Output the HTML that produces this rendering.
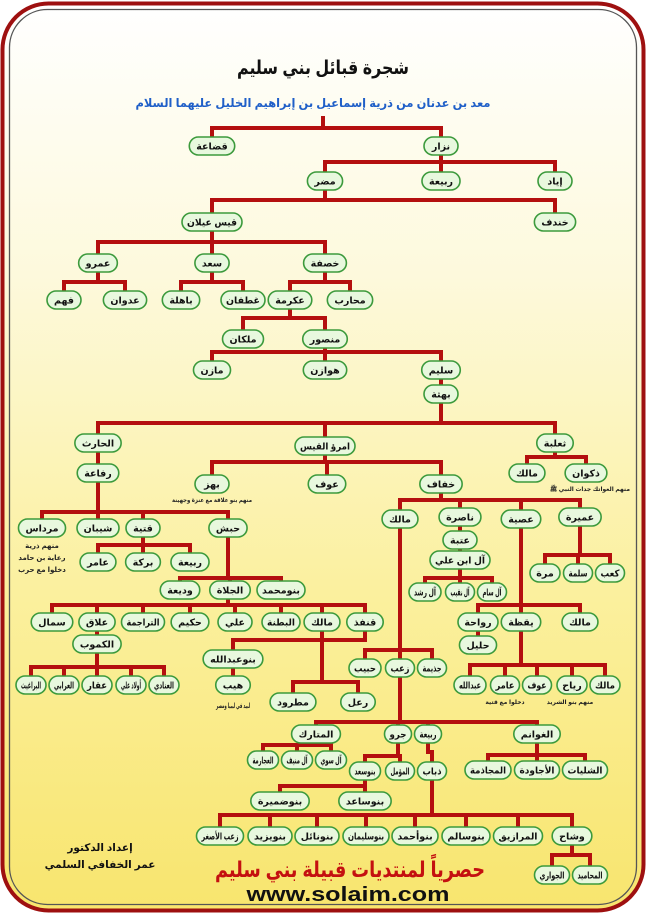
<!DOCTYPE html>
<html><head><meta charset="utf-8">
<style>
html,body{margin:0;padding:0;background:#fff;}
svg{display:block;}
text{font-family:"Liberation Sans","DejaVu Sans",sans-serif;font-weight:bold;}
</style></head>
<body>
<svg id="s" width="647" height="914" viewBox="0 0 647 914" xmlns="http://www.w3.org/2000/svg">
<defs>
<linearGradient id="bg" x1="0" y1="0" x2="0" y2="1">
<stop offset="0" stop-color="#ffffff"/>
<stop offset="0.3" stop-color="#fdf9dc"/>
<stop offset="0.65" stop-color="#fbf09e"/>
<stop offset="1" stop-color="#f8e56e"/>
</linearGradient>
</defs>
<rect x="2.5" y="3.5" width="641" height="907" rx="46" fill="url(#bg)" stroke="#9e1010" stroke-width="4"/>
<rect x="9.5" y="9.5" width="627" height="895" rx="38" fill="none" stroke="#555" stroke-width="1.3"/>
<text x="323" y="74" font-size="19" text-anchor="middle" fill="#111" textLength="172" lengthAdjust="spacingAndGlyphs">شجرة قبائل بني سليم</text>
<text x="313" y="107" font-size="12" text-anchor="middle" fill="#1f5fc8" textLength="355" lengthAdjust="spacingAndGlyphs">معد بن عدنان من ذرية إسماعيل بن إبراهيم الخليل عليهما السلام</text>
<g id="lines" stroke="#b40f0f" stroke-width="4" fill="none" stroke-linecap="square"></g>
<g id="nodes"></g>
<g font-size="6" fill="#222" text-anchor="middle">
<text x="590" y="491" textLength="80" lengthAdjust="spacingAndGlyphs">منهم العواتك جدات النبي ﷺ</text>
<text x="212" y="502" textLength="80" lengthAdjust="spacingAndGlyphs">منهم بنو علاقة مع عنزة وجهينة</text>
<text x="42" y="548" font-size="7">منهم ذرية</text>
<text x="42" y="560" font-size="7">رعاية بن حامد</text>
<text x="42" y="572" font-size="7">دخلوا مع حرب</text>
<text x="505" y="704">دخلوا مع قتية</text>
<text x="570" y="704">منهم بنو الشريد</text>
<text x="233" y="708" font-size="7" textLength="34" lengthAdjust="spacingAndGlyphs">لبيد في ليبيا ومصر</text>
</g>
<text x="100" y="851" font-size="10.5" text-anchor="middle" fill="#111">إعداد الدكتور</text>
<text x="100" y="868" font-size="10.5" text-anchor="middle" fill="#111">عمر الخفافي السلمي</text>
<text x="350" y="877" font-size="22" text-anchor="middle" fill="#c41010" textLength="270" lengthAdjust="spacingAndGlyphs">حصرياً لمنتديات قبيلة بني سليم</text>
<text x="348" y="901" font-size="20" text-anchor="middle" fill="#111" textLength="203" lengthAdjust="spacingAndGlyphs">www.solaim.com</text>
</svg>
<script>
var NS="http://www.w3.org/2000/svg";
var N=[
["قضاعة",212,146],["نزار",441,146],
["مضر",325,181],["ربيعة",441,181],["إياد",555,181],
["قيس عيلان",212,222],["خندف",555,222],
["عمرو",98,263],["سعد",212,263],["خصفة",325,263],
["فهم",64,300],["عدوان",125,300],["باهلة",181,300],["غطفان",243,300],["عكرمة",290,300],["محارب",350,300],
["ملكان",243,339],["منصور",325,339],
["مازن",212,370],["هوازن",325,370],["سليم",441,370],["بهثة",441,394],
["الحارث",98,443],["امرؤ القيس",325,446],["ثعلبة",555,443],
["مالك",527,473],["ذكوان",586,473],["رفاعة",98,473],
["بهز",212,484],["عوف",327,484],["خفاف",441,484],
["مرداس",42,528],["شيبان",98,528],["قتية",143,528],["حبش",228,528],
["عامر",98,562],["بركة",143,562],["ربيعة",190,562],
["وديعة",180,590],["الجلاة",230,590],["بنومحمد",281,590],
["مالك",400,519],["ناصرة",460,517],["عصية",521,519],["عميرة",580,517],
["عتبة",460,540],["آل ابن علي",460,560],
["آل رشد",425,592],["آل نقيب",460,592],["آل سام",492,592],
["مرة",545,573],["سلمة",578,573],["كعب",610,573],
["رواحة",478,622],["يقظة",521,622],["مالك",580,622],["حليل",478,645],
["عبدالله",470,685],["عامر",505,685],["عوف",537,685],["رياح",572,685],["مالك",605,685],
["سمال",52,622],["علاق",97,622],["التراجمة",143,622],["حكيم",190,622],["علي",235,622],["البطنة",281,622],["مالك",322,622],["قنفذ",365,622],
["الكموب",97,644],
["البراغيث",31,685],["العرابي",64,685],["عقار",97,685],["أولاد علي",131,685],["العنادي",164,685],
["بنوعبدالله",233,659],["هيب",233,685],["مطرود",293,702],["رعل",358,702],
["حبيب",365,668],["زعب",400,668],["جذيمة",432,668],
["المتارك",316,734],["جرو",398,734],["ربيعة",428,734],["الغوانم",537,734],
["العجارمة",263,760],["آل منيف",297,760],["آل سوي",331,760],
["بنوسعد",365,771],["المؤمل",400,771],["ذباب",432,771],
["بنوضميرة",280,801],["بنوساعد",365,801],
["المجاذمة",488,770],["الأجاودة",537,770],["الشليات",585,770],
["زعب الأصغر",220,836],["بنويزيد",270,836],["بنونائل",317,836],["بنوسليمان",366,836],["بنوأحمد",415,836],["بنوسالم",466,836],["المرازيق",518,836],["وشاح",572,836],
["الجواري",552,875],["المحاميد",590,875]
];
var E=[
[323,118,128,[212,441],146],
[441,146,162,[325,441,555],181],
[325,181,200,[212,555],222],
[212,222,242,[98,212,325],263],
[98,263,282,[64,125],300],[212,263,282,[181,243],300],[325,263,282,[290,350],300],
[290,300,318,[243,325],339],
[325,339,352,[212,325,441],370],
[441,370,382,[441],394],
[441,394,423,[98,325,555],443],
[555,443,457,[527,586],473],
[98,443,458,[98],473],
[325,446,462,[212,327,441],484],
[98,473,512,[42,98,143,228],528],
[143,528,545,[98,143,190],562],
[228,528,578,[180,230,281],590],
[441,484,500,[400,460,521,580],517],
[460,517,530,[460],540],[460,540,550,[460],560],
[460,560,578,[425,460,492],592],
[580,517,555,[545,578,610],573],
[521,519,605,[478,521,580],622],
[478,622,634,[478],645],
[521,622,665,[470,505,537,572,605],685],
[228,590,605,[52,97,143,190,235,281,322,365],622],
[97,622,634,[97],644],
[97,644,667,[31,64,97,131,164],685],
[365,622,640,[233],659],[233,659,672,[233],685],
[322,622,682,[293,358],702],
[400,519,650,[365,400,432],668],
[400,668,722,[316,398,428,537],734],
[316,734,745,[263,297,331],760],
[398,734,756,[365,400],771],[428,734,752,[432],771],
[365,771,786,[280,365],801],
[537,734,755,[488,537,585],770],
[432,771,815,[220,270,317,366,415,466,518,572],836],
[572,836,855,[552,590],875]
];
var L=document.getElementById("lines"),G=document.getElementById("nodes");
function ln(x1,y1,x2,y2){var l=document.createElementNS(NS,"line");l.setAttribute("x1",x1);l.setAttribute("y1",y1);l.setAttribute("x2",x2);l.setAttribute("y2",y2);L.appendChild(l);}
E.forEach(function(e){var px=e[0],py=e[1],b=e[2],xs=e[3],cy=e[4];
 var mn=Math.min.apply(null,xs.concat([px])),mx=Math.max.apply(null,xs.concat([px]));
 ln(px,py,px,b); if(mx>mn) ln(mn,b,mx,b);
 xs.forEach(function(x){ln(x,b,x,cy);});});
N.forEach(function(n,i){
 var maxW=60;
 N.forEach(function(m,j){ if(j!==i && Math.abs(m[2]-n[2])<15){var d=Math.abs(m[1]-n[1]); if(d-3<maxW) maxW=d-3;} });
 var g=document.createElementNS(NS,"g");
 var r=document.createElementNS(NS,"rect");
 var t=document.createElementNS(NS,"text");
 t.setAttribute("x",n[1]);t.setAttribute("y",n[2]+3.5);t.setAttribute("font-size","9.5");
 t.setAttribute("text-anchor","middle");t.setAttribute("fill","#111");t.textContent=n[0];
 g.appendChild(r);g.appendChild(t);G.appendChild(g);
 var tw=t.getComputedTextLength();
 var w=tw+14; if(w<34)w=34; if(w>maxW) w=maxW;
 if(tw>w-10){t.setAttribute("textLength",w-10);t.setAttribute("lengthAdjust","spacingAndGlyphs");}
 r.setAttribute("x",n[1]-w/2);r.setAttribute("y",n[2]-9);r.setAttribute("width",w);r.setAttribute("height",18);
 r.setAttribute("rx",9);r.setAttribute("fill","#e8f8de");r.setAttribute("stroke","#3c9a3c");r.setAttribute("stroke-width","1.6");
});
</script>
</body></html>
